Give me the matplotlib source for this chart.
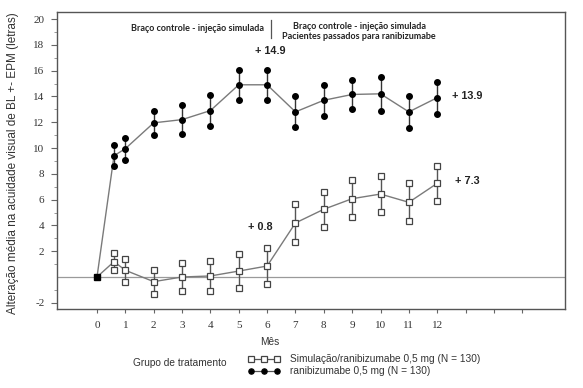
import matplotlib
matplotlib.use("Agg")
import matplotlib.pyplot as plt
import numpy as np
from matplotlib.lines import Line2D

# Data
months = [0, 0.6, 1, 2, 3, 4, 5, 6, 7, 8, 9, 10, 11, 12]
ranib_mean = [0, 9.4, 9.95, 11.95, 12.2, 12.9, 14.9, 14.9, 12.8, 13.7, 14.15, 14.2, 12.8, 13.9]
ranib_sem = [0, 0.8, 0.85, 0.95, 1.1, 1.2, 1.15, 1.15, 1.2, 1.2, 1.15, 1.3, 1.25, 1.25]
sham_mean = [0, 1.19, 0.52, -0.36, 0.0, 0.08, 0.46, 0.85, 4.19, 5.25, 6.07, 6.43, 5.79, 7.26]
sham_sem = [0, 0.66, 0.88, 0.93, 1.08, 1.18, 1.32, 1.43, 1.46, 1.37, 1.45, 1.4, 1.47, 1.37]
x_ticks = list(range(0, 16))
x_tick_labels = [str(i) for i in range(0, 13)] + ["", "", ""]
y_ticks = [-2, 2, 4, 6, 8, 10, 12, 14, 16, 18, 20]

SANS = "Liberation Sans"

fig = plt.figure(figsize=(5.83, 3.88), dpi=100)
L, R, T, B = 57, 565, 12, 309
ax = fig.add_axes([L/583, (388-B)/388, (R-L)/583, (B-T)/388])

x0, dx = 97, 28.35
y0, dy = 277, 12.9

line_col = "#7a7a7a"
ax.axhline(0, color="#9a9a9a", lw=0.9, zorder=1)

m = np.array(months)
rm, rs = np.array(ranib_mean), np.array(ranib_sem)
sm, ss = np.array(sham_mean), np.array(sham_sem)

ax.vlines(m, rm - rs, rm + rs, color="#333333", lw=1.0, zorder=2)
ax.vlines(m, sm - ss, sm + ss, color="#555555", lw=1.0, zorder=2)

ax.plot(m, rm, color=line_col, lw=1.0, zorder=3)
ax.plot(m, sm, color=line_col, lw=1.0, zorder=3)

for arr in (rm, rm - rs, rm + rs):
    ax.plot(m[1:], arr[1:], ls="none", marker="o", ms=4, color="black", zorder=4)
for arr in (sm, sm - ss, sm + ss):
    ax.plot(m[1:], arr[1:], ls="none", marker="s", ms=4.2, mfc="white",
            mec="#444444", mew=0.9, zorder=4)
ax.plot([0], [0], ls="none", marker="s", ms=4.5, color="black", zorder=5)

ax.set_xlim((L - x0)/dx, (R - x0)/dx)
ax.set_ylim((y0 - B)/dy, (y0 - T)/dy)
ax.set_xticks(x_ticks)
ax.set_xticklabels(x_tick_labels, family="Liberation Serif", fontsize=8, color="#333333")
ax.set_yticks(y_ticks)
ax.set_yticklabels([str(v) for v in y_ticks], family="Liberation Serif", fontsize=8, color="#333333")
ax.set_yticks([-1, 1, 3, 5, 7, 9, 11, 13, 15, 17, 19], minor=True)
ax.tick_params(axis="x", which="major", direction="out", length=3, width=0.8, color="#666666", pad=6)
ax.tick_params(axis="y", which="major", direction="out", length=4, width=0.8, color="#666666", pad=5)
ax.tick_params(axis="y", which="minor", direction="out", length=2, width=0.6, color="#888888")
for sp in ax.spines.values():
    sp.set_color("#555555")
    sp.set_linewidth(1.0)

ann = dict(fontsize=7.8, fontweight="bold", ha="center", va="center", color="#222222", family=SANS)
ax.text(6.1, 17.5, "+ 14.9", **ann)
ax.text(13.05, 14.05, "+ 13.9", **ann)
ax.text(5.75, 3.85, "+ 0.8", **ann)
ax.text(13.05, 7.45, "+ 7.3", **ann)

hdr = dict(fontsize=6.5, ha="center", va="center", color="#222222", family="Lato", fontweight="bold")
ax.text(3.55, 19.3, "Braço controle - injeção simulada", **hdr)
ax.text(9.25, 19.05, "Braço controle - injeção simulada\nPacientes passados para ranibizumabe",
        linespacing=1.15, **hdr)
ax.plot([6.15, 6.15], [18.5, 19.9], color="#555555", lw=0.9)

ax.set_ylabel("Alteração média na acuidade visual de BL +- EPM (letras)", fontsize=8.5,
              color="#333333", family=SANS)
ax.yaxis.set_label_coords(-(L - 19)/(R - L), 0.49)

lt = dict(fontsize=7.3, va="center", color="#333333", family=SANS)
fig.text(270/583, 1 - 342/388, "Mês", ha="center", **lt)
fig.text(180/583, 1 - 363/388, "Grupo de tratamento", ha="center", **lt)
lx = np.array([251, 264, 277]) / 583
for yy, mk, mfc, mec in ((359, "s", "white", "#444444"), (371, "o", "black", "black")):
    yf = 1 - yy/388
    fig.lines.append(Line2D(lx, [yf]*3, transform=fig.transFigure, color="#555555", lw=0.9,
                            marker=mk, ms=3.8, mfc=mfc, mec=mec, mew=0.9))
fig.text(290/583, 1 - 359/388, "Simulação/ranibizumabe 0,5 mg (N = 130)", ha="left", **lt)
fig.text(290/583, 1 - 371/388, "ranibizumabe 0,5 mg (N = 130)", ha="left", **lt)

fig.savefig("out.png", dpi=100)
